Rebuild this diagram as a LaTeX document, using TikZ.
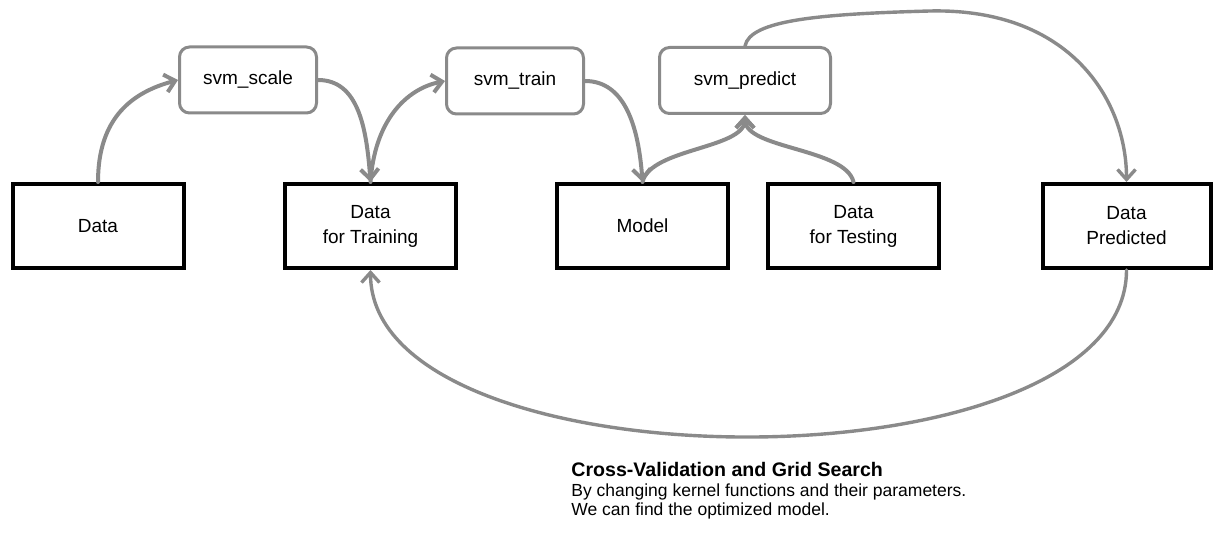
\documentclass[tikz,border=0pt]{standalone}
\usepackage{fontspec}
\setmainfont{Liberation Sans}
\usetikzlibrary{arrows.meta}
\definecolor{flowgray}{HTML}{8A8A8A}
\begin{document}
\begin{tikzpicture}[x=0.5pt,y=-0.5pt,
  boxfont/.style={font=\fontsize{9.5pt}{12.5pt}\selectfont},
  databox/.style={draw=black,line width=2pt,fill=white,minimum width=85.5pt,
    minimum height=42pt,align=center,inner sep=0pt,boxfont},
  toolbox/.style={draw=flowgray,line width=1.5pt,rounded corners=5pt,fill=white,
    minimum height=33pt,align=center,inner sep=0pt,boxfont},
  flow/.style={draw=flowgray,line width=2pt,line cap=round,
    -{Straight Barb[length=5pt,width=9pt]}},
  loop/.style={flow,line width=1.7pt}]
\useasboundingbox (0,0) rectangle (1213,533);

% data stages
\node[databox] (data)  at (98,226)     {Data};
\node[databox] (train) at (370.5,226)  {Data\\for Training};
\node[databox] (model) at (642.5,226)  {Model};
\node[databox] (test)  at (853.5,226)  {Data\\for Testing};
\node[databox,minimum width=84pt] (pred) at (1126.5,226) {Data\\Predicted};

% libsvm tools
\node[toolbox,minimum width=68.5pt] (scale)   at (248,80)    {svm\_scale};
\node[toolbox,minimum width=68.5pt] (svmtrain) at (515,81)   {svm\_train};
\node[toolbox,minimum width=85.5pt] (predict) at (745,80.5)  {svm\_predict};

% processing flow
\draw[flow] (data.north) .. controls +(0,-65) and +(-45,12) .. (scale.west);
\draw[flow] (scale.east) .. controls +(40,0) and +(-4,-55) .. (train.north);
\draw[flow] (train.north) .. controls +(4,-60) and +(-40,8) .. (svmtrain.west);
\draw[flow] (svmtrain.east) .. controls +(40,0) and +(-4,-55) .. (model.north);
\draw[flow] (model.north) .. controls +(8,-34) and +(0,34) .. (predict.south);
\draw[flow] (test.north) .. controls +(-8,-34) and +(0,34) .. (predict.south);
\draw[loop] (predict.north) .. controls +(5,-26) and +(-110,3) .. (930,11)
  .. controls +(140,-3) and +(0,-82) .. (pred.north);

% cross-validation loop
\draw[loop] (pred.south) .. controls +(0,223) and +(0,221) .. (train.south);

% caption
\node[anchor=north west,inner sep=0pt,align=left,
  font=\fontsize{8.75pt}{9.75pt}\selectfont] (caption) at (571,462)
  {{\fontsize{9.8pt}{9.75pt}\selectfont\bfseries Cross-Validation and Grid Search}\\
   By changing kernel functions and their parameters.\\
   We can find the optimized model.};
\end{tikzpicture}
\end{document}
